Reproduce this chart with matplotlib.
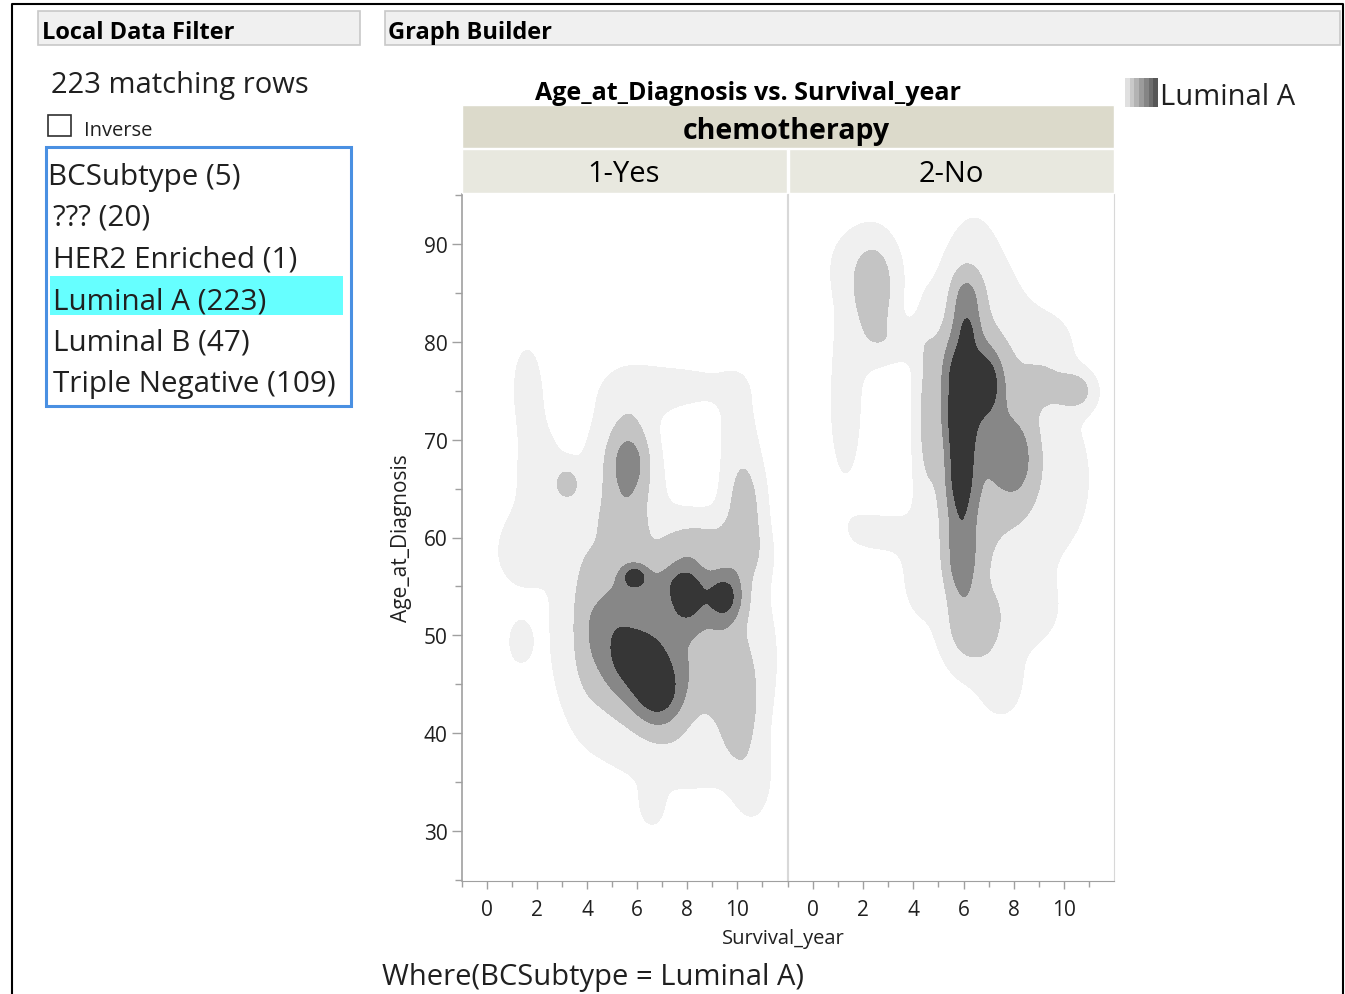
import numpy as np
import matplotlib
matplotlib.use("Agg")
import matplotlib.pyplot as plt
from matplotlib.patches import Rectangle

plt.rcParams["font.family"] = ["Open Sans", "DejaVu Sans"]

### data ###
# density blobs: survival year, age, spread x, spread y, height
yes_x = [7.2, 6.0, 6.9, 8.0, 9.5, 5.9, 5.0, 9.5, 6.8, 8.5, 5.6, 5.7, 5.4, 10.3, 10.4, 10.1, 3.2,
         4.0, 1.3, 2.0, 1.6, 1.3, 6.6, 10.6, 10.0, 4.2, 6.3, 8.3, 8.2]
yes_y = [49.0, 47.5, 43.8, 54.2, 54.0, 56.0, 52.0, 47.0, 55.5, 59.5, 67.0, 67.7, 61.5, 63.0, 58.0,
         42.0, 65.5, 52.0, 58.5, 66.5, 76.0, 49.3, 32.5, 34.5, 72.0, 56.0, 75.0, 37.0, 75.5]
yes_sx = [2.5, 1.0, 0.7, 0.55, 0.55, 0.35, 0.6, 0.8, 1.0, 1.2, 0.8, 0.5, 0.6, 0.55, 0.6, 0.6, 0.35,
          0.4, 0.8, 0.85, 0.5, 0.4, 0.4, 0.6, 0.6, 1.0, 1.2, 1.5, 1.3]
yes_sy = [7.5, 3.3, 2.5, 2.3, 2.0, 0.9, 4.0, 3.0, 1.5, 1.8, 5.0, 2.3, 2.0, 4.0, 2.0, 3.5, 1.2,
          5.0, 2.8, 5.0, 3.5, 1.9, 1.8, 3.0, 4.0, 10.0, 2.0, 2.0, 1.5]
yes_h = [0.42, 0.55, 0.5, 0.62, 0.68, 0.5, 0.2, 0.2, 0.22, 0.25, 0.38, 0.3, 0.15, 0.38, 0.12, 0.3,
         0.32, 0.15, 0.15, 0.14, 0.14, 0.13, 0.13, 0.14, 0.14, 0.12, 0.12, 0.1, 0.13]

no_x = [6.4, 5.8, 6.9, 6.2, 5.85, 5.8, 5.9, 6.1, 8.0, 7.2, 8.3, 4.5, 10.5, 9.4, 6.3, 2.45,
        1.3, 2.0, 2.8, 4.2, 7.6, 9.8, 9.5, 8.3, 3.3]
no_y = [70.0, 76.5, 76.0, 81.0, 66.5, 71.5, 57.5, 84.5, 68.0, 70.0, 70.0, 72.0, 75.0, 75.5, 50.5,
        84.8, 74.0, 88.0, 60.5, 56.0, 45.0, 66.0, 80.0, 52.0, 80.0]
no_sx = [1.1, 0.55, 0.5, 0.35, 0.45, 0.5, 0.45, 0.45, 0.55, 0.5, 0.8, 0.35, 0.5, 0.7, 0.7, 0.6,
         0.7, 1.1, 1.0, 0.6, 0.6, 1.3, 0.8, 1.3, 0.9]
no_sy = [13.0, 3.5, 2.5, 1.5, 4.0, 2.0, 3.0, 2.3, 2.8, 3.0, 9.0, 7.0, 1.3, 1.8, 2.5, 3.6,
         9.0, 3.0, 1.8, 3.5, 2.5, 7.0, 2.5, 3.0, 1.6]
no_h = [0.45, 0.6, 0.55, 0.2, 0.6, 0.2, 0.45, 0.4, 0.36, 0.1, 0.2, 0.25, 0.35, 0.2, 0.3, 0.4,
        0.14, 0.13, 0.14, 0.13, 0.15, 0.15, 0.12, 0.13, 0.16]

panel_names = ["1-Yes", "2-No"]
filter_items = ["BCSubtype (5)", "??? (20)", "HER2 Enriched (1)", "Luminal A (223)",
                "Luminal B (47)", "Triple Negative (109)"]
x_ticks = [0, 2, 4, 6, 8, 10]
y_ticks = [30, 40, 50, 60, 70, 80, 90]

levels = [0.1, 0.3, 0.55, 0.8, 100]
shades = ["#f0f0f0", "#c4c4c4", "#878787", "#363636"]

W, H = 1345, 995


def fx(px):
    return px / W


def fy(py):
    return 1 - py / H


def density(gx, gy, bx, by, sx, sy, h):
    z = np.zeros_like(gx)
    for i in range(len(bx)):
        z += h[i] * np.exp(-0.5 * (((gx - bx[i]) / sx[i]) ** 2 + ((gy - by[i]) / sy[i]) ** 2))
    return z


fig = plt.figure(figsize=(W / 100, H / 100), dpi=100)


def box(x0, y0, x1, y1, **kw):
    fig.patches.append(Rectangle((fx(x0), fy(y1)), fx(x1) - fx(x0), fy(y0) - fy(y1),
                                 transform=fig.transFigure, **kw))


# outer frame
fig.add_artist(plt.Line2D([fx(12), fx(12), fx(1343), fx(1343)], [0, fy(5), fy(5), 0],
                          transform=fig.transFigure, color="black", lw=1.5))

# header bars
box(38, 12, 360, 46, facecolor="#f0f0f0", edgecolor="#c8c8c8", lw=1.2)
box(385, 12, 1340, 46, facecolor="#f0f0f0", edgecolor="#c8c8c8", lw=1.2)
fig.text(fx(42), fy(33), "Local Data Filter", fontsize=17, fontweight="bold", va="center")
fig.text(fx(388), fy(33), "Graph Builder", fontsize=17, fontweight="bold", va="center")

# local data filter panel
fig.text(fx(51), fy(85), "223 matching rows", fontsize=21, va="center", color="#202020")
box(48, 116, 71, 137, facecolor="white", edgecolor="#303030", lw=1.2)
fig.text(fx(84), fy(131), "Inverse", fontsize=14.5, va="center", color="#202020")
box(46, 148, 351, 407, facecolor="white", edgecolor="#4a90e2", lw=2.2)
box(50, 277, 343, 316, facecolor="#66ffff", edgecolor="none")
for i, item in enumerate(filter_items):
    fig.text(fx(48 if i == 0 else 53), fy(177 + i * 41.5), item, fontsize=21.3, va="center",
             color="#202020")

# title, legend, where clause
fig.text(fx(748), fy(94), "Age_at_Diagnosis vs. Survival_year", fontsize=18,
         fontweight="bold", ha="center", va="center")
for k in range(7):
    g = 0.88 - k * 0.09
    box(1125 + k * 4.7, 79, 1125 + (k + 1) * 4.7, 108, facecolor=(g, g, g), edgecolor="none")
fig.text(fx(1160), fy(98), "Luminal A", fontsize=21, va="center", color="#202020")
fig.text(fx(382), fy(978), "Where(BCSubtype = Luminal A)", fontsize=21, va="center",
         color="#202020")

# strips
box(462, 106, 1114, 149, facecolor="#dcdacb", edgecolor="white", lw=1)
fig.text(fx(786), fy(132), "chemotherapy", fontsize=20.5, fontweight="bold", ha="center",
         va="center")
box(462, 150, 787, 194, facecolor="#e8e8df", edgecolor="white", lw=1)
box(789, 150, 1114, 194, facecolor="#e8e8df", edgecolor="white", lw=1)
fig.text(fx(624), fy(175), panel_names[0], fontsize=21, ha="center", va="center")
fig.text(fx(951), fy(175), panel_names[1], fontsize=21, ha="center", va="center")

# contour panels
gx, gy = np.meshgrid(np.linspace(-1, 12, 400), np.linspace(24.9, 95.1, 600))
panels = [(yes_x, yes_y, yes_sx, yes_sy, yes_h, 462, 787),
          (no_x, no_y, no_sx, no_sy, no_h, 788, 1114)]
for j, (bx, by, sx, sy, h, x0, x1) in enumerate(panels):
    ax = fig.add_axes([fx(x0), fy(882), fx(x1) - fx(x0), fy(195) - fy(882)])
    z = density(gx, gy, bx, by, sx, sy, h)
    ax.contourf(gx, gy, z, levels=levels, colors=shades)
    ax.set_xlim(-1, 12)
    ax.set_ylim(24.9, 95.1)
    ax.set_xticks(x_ticks)
    ax.set_xticks(np.arange(-1, 12, 2), minor=True)
    ax.tick_params(axis="x", which="both", colors="#a0a0a0", labelcolor="#202020",
                   labelsize=15, length=6, width=1, pad=7)
    ax.tick_params(axis="x", which="minor", length=4)
    ax.spines["top"].set_visible(False)
    ax.spines["bottom"].set_color("#a0a0a0")
    ax.spines["right"].set_color("#d8d8d8")
    if j == 0:
        ax.spines["left"].set_color("#a0a0a0")
        ax.spines["left"].set_linewidth(1.2)
        ax.set_yticks(y_ticks)
        ax.set_yticks(np.arange(25, 96, 5), minor=True)
        ax.tick_params(axis="y", which="both", colors="#a0a0a0", labelcolor="#202020",
                       labelsize=15, length=7, width=1)
        ax.tick_params(axis="y", which="minor", length=5)
        ax.set_ylabel("Age_at_Diagnosis", fontsize=15, color="#202020", labelpad=8)
    else:
        ax.spines["left"].set_color("#d8d8d8")
        ax.set_yticks([])

fig.text(fx(783), fy(939), "Survival_year", fontsize=14.5, ha="center", va="center",
         color="#202020")

fig.savefig("out.png", dpi=100)
